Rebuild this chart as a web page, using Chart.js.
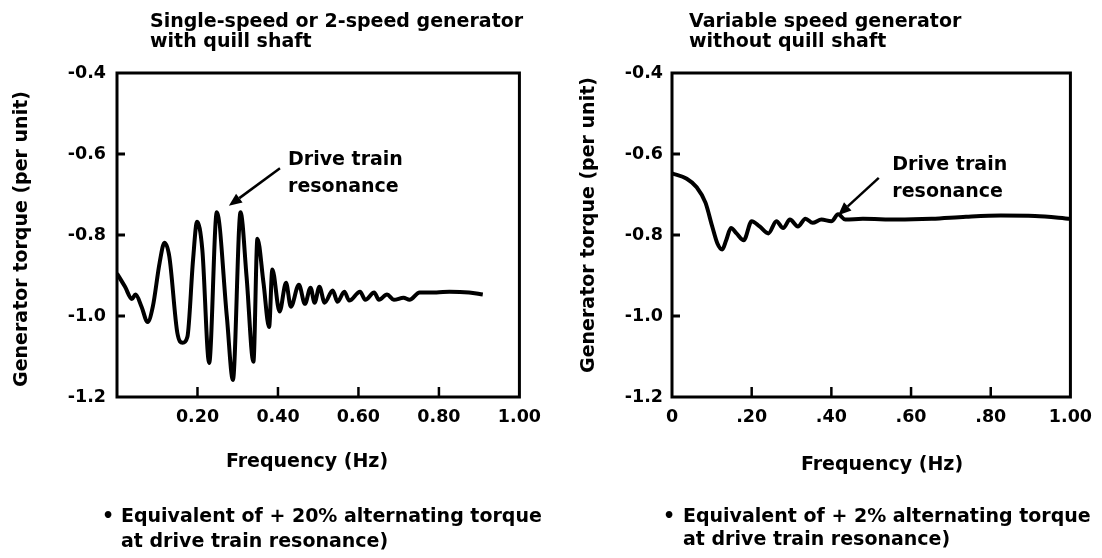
<!DOCTYPE html>
<html><head><meta charset="utf-8">
<script src="https://cdn.jsdelivr.net/npm/chart.js@4.4.0/dist/chart.umd.min.js"></script>
<style>
html,body{margin:0;padding:0;background:#fff;}
#wrap{position:relative;width:1102px;height:558px;overflow:hidden;background:#fff;}
canvas{position:absolute;top:0;}
</style></head><body>
<div id="wrap">
<canvas id="c1" width="551" height="558" style="left:0"></canvas>
<canvas id="c2" width="551" height="558" style="left:551px"></canvas>
</div>
<script>
// ---- Data ----
const freqLeft = [0.000,0.020,0.037,0.046,0.061,0.076,0.089,0.106,0.118,0.130,0.150,0.163,0.175,0.189,0.199,0.212,0.229,0.248,0.273,0.288,0.307,0.322,0.339,0.349,0.364,0.378,0.386,0.404,0.420,0.432,0.452,0.467,0.481,0.491,0.503,0.516,0.536,0.548,0.565,0.577,0.604,0.617,0.639,0.651,0.671,0.688,0.712,0.727,0.752,0.794,0.826,0.875,0.909];
const torqueLeft = [-0.895,-0.928,-0.958,-0.947,-0.977,-1.015,-0.977,-0.868,-0.819,-0.853,-1.042,-1.066,-1.051,-0.861,-0.767,-0.836,-1.116,-0.744,-1.002,-1.158,-0.744,-0.903,-1.113,-0.809,-0.918,-1.027,-0.885,-0.989,-0.918,-0.977,-0.923,-0.970,-0.930,-0.967,-0.928,-0.967,-0.937,-0.965,-0.940,-0.962,-0.940,-0.960,-0.942,-0.960,-0.947,-0.960,-0.955,-0.960,-0.942,-0.942,-0.940,-0.942,-0.947];
const freqRight = [0.000,0.037,0.062,0.084,0.101,0.114,0.126,0.136,0.148,0.162,0.180,0.200,0.220,0.242,0.262,0.279,0.296,0.316,0.335,0.353,0.375,0.400,0.417,0.435,0.479,0.565,0.652,0.738,0.825,0.911,1.000];
const torqueRight = [-0.648,-0.661,-0.682,-0.720,-0.779,-0.821,-0.836,-0.813,-0.783,-0.796,-0.813,-0.766,-0.779,-0.796,-0.766,-0.783,-0.762,-0.779,-0.760,-0.770,-0.762,-0.766,-0.749,-0.762,-0.760,-0.762,-0.760,-0.755,-0.752,-0.753,-0.760];
const xTickLabelsLeft = ['', '0.20', '0.40', '0.60', '0.80', '1.00'];
const xTickLabelsRight = ['0', '.20', '.40', '.60', '.80', '1.00'];
const yTickLabels = ['-1.2', '-1.0', '-0.8', '-0.6', '-0.4'];
const innerXMarks = [0.2, 0.4, 0.6, 0.8];
const innerYMarks = [-0.6, -0.8, -1.0];

const FONT = '"DejaVu Sans", sans-serif';

const decor = {
  id: 'decor',
  afterDraw(chart, args, o) {
    const {ctx, chartArea: a, scales: {x, y}} = chart;
    ctx.save();
    ctx.strokeStyle = '#000';
    ctx.fillStyle = '#000';
    ctx.lineCap = 'butt';
    // frame
    ctx.lineWidth = 3;
    ctx.strokeRect(a.left, a.top, a.right - a.left, a.bottom - a.top);
    // inner tick marks
    ctx.lineWidth = 3;
    innerYMarks.forEach(v => {
      const py = y.getPixelForValue(v);
      ctx.beginPath(); ctx.moveTo(a.left, py); ctx.lineTo(a.left + 8, py); ctx.stroke();
    });
    ctx.lineWidth = 2.5;
    innerXMarks.forEach(v => {
      const px = x.getPixelForValue(v);
      ctx.beginPath(); ctx.moveTo(px, a.bottom); ctx.lineTo(px, a.bottom - 10); ctx.stroke();
    });
    // texts
    ctx.font = 'bold 19px ' + FONT;
    ctx.textBaseline = 'middle';
    o.texts.forEach(t => {
      ctx.save();
      let px = t.x, py = t.y;
      if (t.data) { px = x.getPixelForValue(t.x); py = y.getPixelForValue(t.y); }
      ctx.translate(px, py);
      if (t.rot) ctx.rotate(t.rot);
      ctx.textAlign = t.align || 'left';
      ctx.fillText(t.text, 0, 0);
      ctx.restore();
    });
    // arrow (data coordinates)
    const ar = o.arrow;
    const x0 = x.getPixelForValue(ar.from[0]), y0 = y.getPixelForValue(ar.from[1]);
    const x1 = x.getPixelForValue(ar.to[0]), y1 = y.getPixelForValue(ar.to[1]);
    const ang = Math.atan2(y1 - y0, x1 - x0);
    const hl = 13, hw = 5.5;
    const bx = x1 - hl * Math.cos(ang), by = y1 - hl * Math.sin(ang);
    ctx.lineWidth = 2.5;
    ctx.beginPath(); ctx.moveTo(x0, y0); ctx.lineTo(bx, by); ctx.stroke();
    ctx.beginPath();
    ctx.moveTo(x1, y1);
    ctx.lineTo(bx + hw * Math.sin(ang), by - hw * Math.cos(ang));
    ctx.lineTo(bx - hw * Math.sin(ang), by + hw * Math.cos(ang));
    ctx.closePath(); ctx.fill();
    ctx.restore();
  }
};

function makeChart(id, xs, ys, xLabels, pad, yAxisWidth, yPad, texts, arrow) {
  const pts = xs.map((v, i) => ({x: v, y: ys[i]}));
  return new Chart(document.getElementById(id), {
    type: 'scatter',
    data: {datasets: [{
      data: pts, showLine: true, borderColor: '#000', borderWidth: 4,
      pointRadius: 0, cubicInterpolationMode: 'monotone', fill: false
    }]},
    options: {
      responsive: false, animation: false, devicePixelRatio: 1,
      layout: {padding: pad},
      plugins: {legend: {display: false}, tooltip: {enabled: false}, decor: {texts, arrow}},
      scales: {
        x: {
          type: 'linear', min: 0, max: 1,
          afterFit: s => { s.height = 558 - 397; },
          grid: {display: false, drawTicks: false, tickLength: 0},
          border: {display: false},
          ticks: {
            stepSize: 0.2, autoSkip: false, maxRotation: 0, padding: 10,
            color: '#000', font: {family: FONT, size: 17.5, weight: 'bold'},
            callback: v => xLabels[Math.round(v * 5)]
          }
        },
        y: {
          type: 'linear', min: -1.2, max: -0.4,
          afterFit: s => { s.width = yAxisWidth; },
          grid: {display: false, drawTicks: false, tickLength: 0},
          border: {display: false},
          ticks: {
            stepSize: 0.2, autoSkip: false, padding: yPad,
            color: '#000', font: {family: FONT, size: 17.5, weight: 'bold'},
            callback: v => yTickLabels[Math.round((v + 1.2) * 5)]
          }
        }
      }
    },
    plugins: [decor]
  });
}

makeChart('c1', freqLeft, torqueLeft, xTickLabelsLeft,
  {top: 73, right: 27, bottom: 0, left: 0}, 117, 11,
  [
    {text: 'Single-speed or 2-speed generator', x: 150, y: 22},
    {text: 'with quill shaft', x: 150, y: 42},
    {text: 'Generator torque (per unit)', x: 22, y: 239, align: 'center', rot: -Math.PI / 2},
    {text: 'Frequency (Hz)', x: 307, y: 462, align: 'center'},
    {text: '•', x: 102, y: 517},
    {text: 'Equivalent of + 20% alternating torque', x: 121, y: 517},
    {text: 'at drive train resonance)', x: 121, y: 542},
    {text: 'Drive train', x: 0.425, y: -0.615, data: true},
    {text: 'resonance', x: 0.425, y: -0.681, data: true}
  ],
  {from: [0.405, -0.635], to: [0.278, -0.728]}
);

makeChart('c2', freqRight, torqueRight, xTickLabelsRight,
  {top: 73, right: 25, bottom: 0, left: 0}, 121, 9,
  [
    {text: 'Variable speed generator', x: 138, y: 22},
    {text: 'without quill shaft', x: 138, y: 42},
    {text: 'Generator torque (per unit)', x: 38, y: 225, align: 'center', rot: -Math.PI / 2},
    {text: 'Frequency (Hz)', x: 331, y: 465, align: 'center'},
    {text: '•', x: 112, y: 517},
    {text: 'Equivalent of + 2% alternating torque', x: 132, y: 517},
    {text: 'at drive train resonance)', x: 132, y: 540},
    {text: 'Drive train', x: 0.553, y: -0.627, data: true},
    {text: 'resonance', x: 0.553, y: -0.694, data: true}
  ],
  {from: [0.519, -0.659], to: [0.417, -0.751]}
);
</script>
</body></html>
